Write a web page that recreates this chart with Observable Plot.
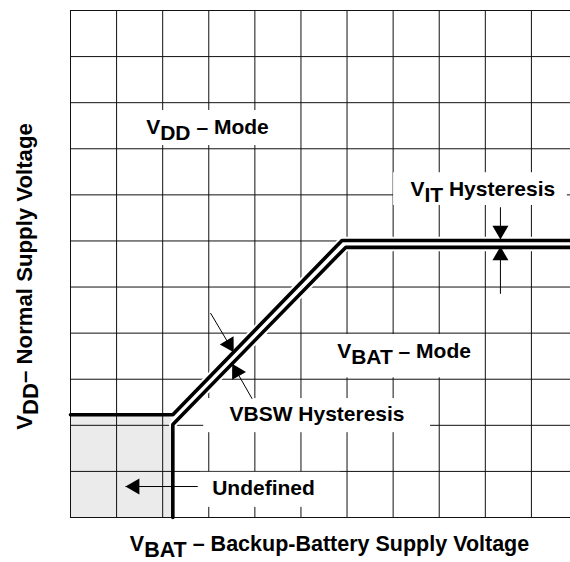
<!DOCTYPE html>
<html><head><meta charset="utf-8">
<script src="https://cdn.jsdelivr.net/npm/d3@7"></script>
<script src="https://cdn.jsdelivr.net/npm/@observablehq/plot@0.6"></script>
<style>html,body{margin:0;padding:0;background:#fff;overflow:hidden}</style>
</head><body><div id="chart"></div>
<script>
// ---- data (grid units) ----
const gridX = [0,1,2,3,4,5,6,7,8,9,10,11];
const gridY = [0,1,2,3,4,5,6,7,8,9,10,11];

// switch-over curves (two lines forming the hysteresis band)
const upperX = [0, 2.22, 5.89, 11];
const upperY = [2.23, 2.23, 6.01, 6.01];
const lowerX = [2.22, 2.22, 5.97, 11];
const lowerY = [0, 2.02, 5.86, 5.86];

// undefined (shaded) region
const undefX = [0, 2.22];
const undefY = [0, 2.23];

// white boxes behind labels
const boxX1 = [1.13, 7.01, 5.31, 2.89, 2.82];
const boxX2 = [4.77, 10.78, 8.85, 7.81, 5.86];
const boxY1 = [8.07, 6.77, 3.03, 1.84, 0.22];
const boxY2 = [8.83, 7.48, 3.97, 2.58, 0.98];

// labels ({..} = subscript)
const labelText = ["V{DD} – Mode", "V{IT} Hysteresis", "V{BAT} – Mode", "VBSW Hysteresis", "Undefined"];
const labelX = [1.642, 7.375, 5.785, 3.449, 3.074];
const labelY = [8.330, 6.985, 3.460, 2.104, 0.488];

// arrows: start -> tip
const arrowStartX = [2.761, 9.328, 9.328, 3.037, 3.941];
const arrowStartY = [0.672, 6.731, 4.853, 4.436, 2.575];
const arrowTipX   = [1.193, 9.328, 9.328, 3.542, 3.508];
const arrowTipY   = [0.672, 6.030, 5.880, 3.586, 3.334];

const xAxisLabel = "V{BAT} – Backup-Battery Supply Voltage";
const yAxisLabel = "V{DD}– Normal Supply Voltage";

// ---- build tables ----
const xRange = [70, 577], yRange = [517, 10];
const pxPerUnit = (xRange[1] - xRange[0]) / 11;
const font = "Liberation Sans, Arial, Helvetica, sans-serif";

const upper = upperX.map((x, i) => ({x, y: upperY[i]}));
const lower = lowerX.map((x, i) => ({x, y: lowerY[i]}));
const undefTable = [{x1: undefX[0], x2: undefX[1], y1: undefY[0], y2: undefY[1]}];
const boxes = boxX1.map((x1, i) => ({x1, x2: boxX2[i], y1: boxY1[i], y2: boxY2[i]}));
const labels = labelText.map((t, i) => ({t, x: labelX[i], y: labelY[i]}));
const arrows = arrowStartX.map((x1, i) => {
  const x2 = arrowTipX[i], y1 = arrowStartY[i], y2 = arrowTipY[i];
  const ddx = x2 - x1, ddy = y2 - y1, len = Math.hypot(ddx, ddy);
  const back = 9.24 / pxPerUnit; // centroid distance from tip
  return {x1, y1, x2, y2,
    cx: x2 - ddx / len * back, cy: y2 - ddy / len * back,
    rot: Math.atan2(ddx, ddy) * 180 / Math.PI};
});

const textOpts = {fontSize: 21, fontWeight: "bold", fontFamily: font, fill: "black"};

const plot = Plot.plot({
  width: 570, height: 562,
  marginTop: 10, marginBottom: 45, marginLeft: 70, marginRight: 0,
  x: {domain: [0, 11], range: xRange, axis: null},
  y: {domain: [0, 11], range: yRange, axis: null},
  marks: [
    Plot.rect(undefTable, {x1: "x1", x2: "x2", y1: "y1", y2: "y2", fill: "#ebebeb"}),
    Plot.ruleX(gridX, {x: d => d, y1: 0, y2: 11, stroke: "#111", strokeWidth: 1}),
    Plot.ruleY(gridY, {y: d => d, x1: 0, x2: 11, stroke: "#111", strokeWidth: 1}),
    Plot.rect(boxes, {x1: "x1", x2: "x2", y1: "y1", y2: "y2", fill: "white"}),
    Plot.line(upper.slice(1), {x: "x", y: "y", stroke: "white", strokeWidth: 7.5}),
    Plot.line(lower.slice(1), {x: "x", y: "y", stroke: "white", strokeWidth: 7.5}),
    Plot.line(upper, {x: "x", y: "y", stroke: "black", strokeWidth: 3.6, strokeLinejoin: "miter"}),
    Plot.line(lower, {x: "x", y: "y", stroke: "black", strokeWidth: 3.6, strokeLinejoin: "miter"}),
    Plot.link(arrows, {x1: "x1", y1: "y1", x2: "x2", y2: "y2", stroke: "black", strokeWidth: 1}),
    Plot.dot(arrows, {x: "cx", y: "cy", rotate: "rot", symbol: "triangle", r: 5.94, fill: "black", stroke: "none"}),
    Plot.text(labels, {x: "x", y: "y", text: "t", textAnchor: "start", lineAnchor: "bottom", ...textOpts}),
    Plot.text([xAxisLabel], {text: d => d, frameAnchor: "bottom", textAnchor: "middle", lineAnchor: "bottom", dx: 9, dy: 33, ...textOpts, fontSize: 21.5}),
    Plot.text([yAxisLabel], {text: d => d, frameAnchor: "left", rotate: -90, textAnchor: "middle", lineAnchor: "bottom", dx: -39, dy: 12.5, ...textOpts, fontSize: 22.2})
  ]
});

// subscripts
plot.querySelectorAll("text").forEach(el => {
  const s = el.textContent;
  if (!s.includes("{")) return;
  el.textContent = "";
  const parts = s.split(/(\{[^}]*\})/).filter(p => p.length);
  let shifted = false;
  parts.forEach(p => {
    const ts = document.createElementNS("http://www.w3.org/2000/svg", "tspan");
    if (p.startsWith("{")) {
      ts.textContent = p.slice(1, -1);
      ts.setAttribute("dy", "6");
      shifted = true;
    } else {
      ts.textContent = p;
      if (shifted) { ts.setAttribute("dy", "-6"); shifted = false; }
    }
    el.appendChild(ts);
  });
});

document.getElementById("chart").appendChild(plot);
</script>
</body></html>
